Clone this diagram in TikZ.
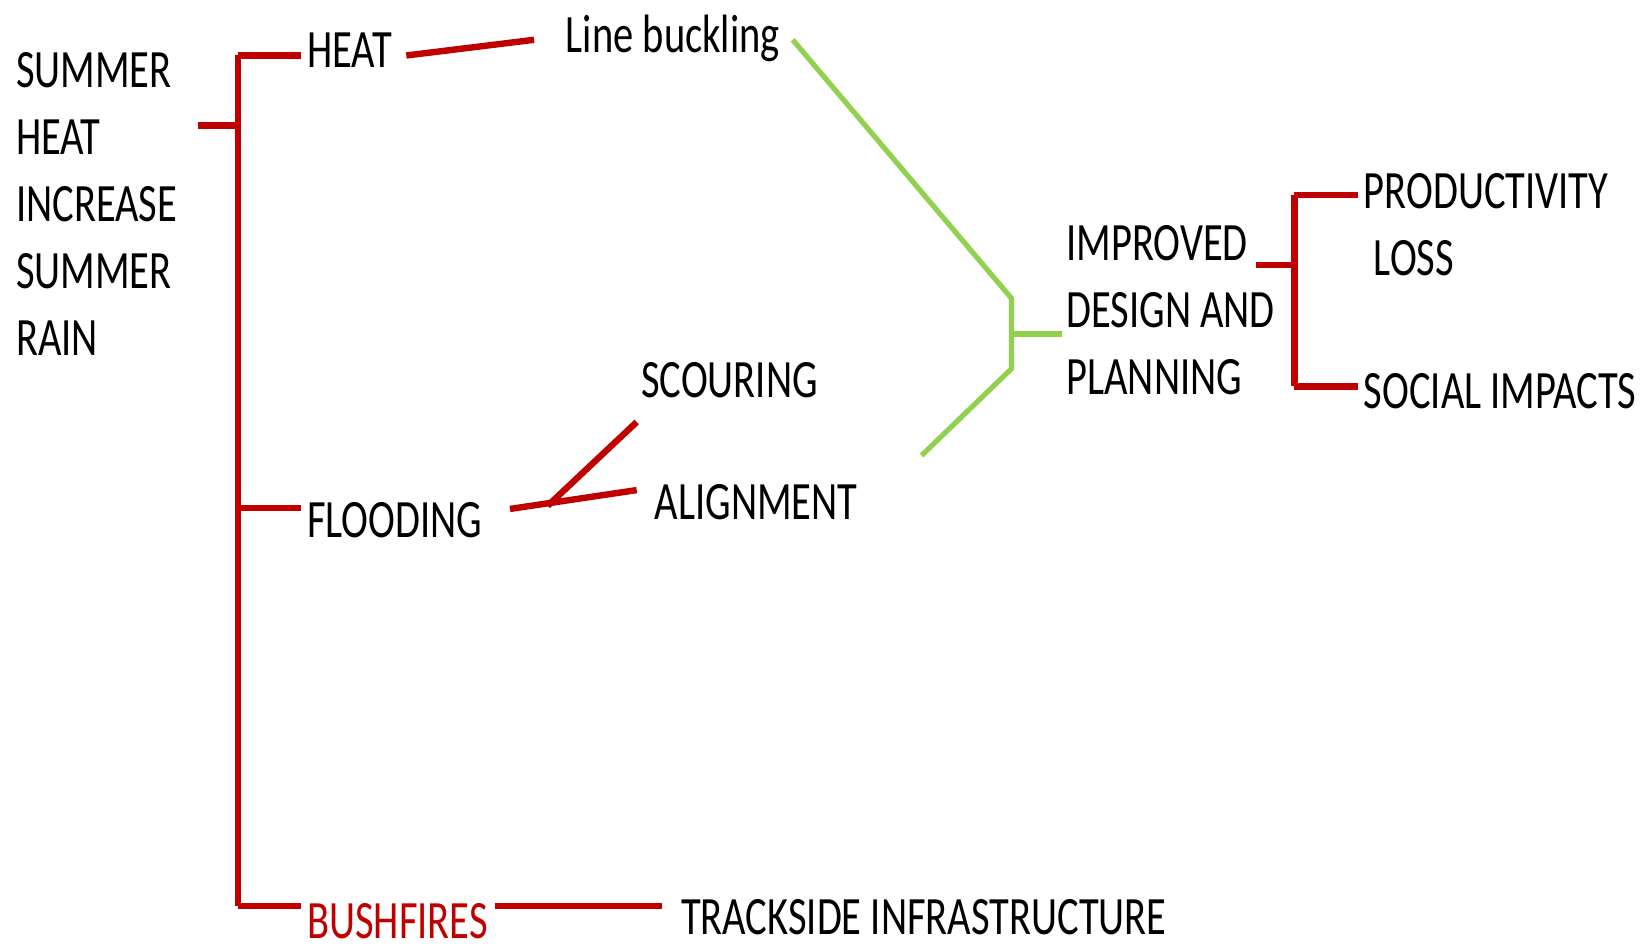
\documentclass[tikz,border=0pt]{standalone}
\usepackage{fontspec}
\setmainfont[FakeStretch=0.75]{Carlito}
\definecolor{darkred}{HTML}{C00000}
\definecolor{leafgreen}{HTML}{92D050}
\tikzset{
  txt/.style={inner sep=0pt, font=\fontsize{27}{33.5}\selectfont},
  redline/.style={draw=darkred, line width=3.2pt},
  greenline/.style={draw=leafgreen, line width=2.6pt},
}
\begin{document}
\begin{tikzpicture}[x=0.5236pt,y=-0.5236pt]
\useasboundingbox (0,0) rectangle (1568,904);
% texts
\node[txt, anchor=north west, align=left] (cause) at (15,50) {SUMMER\\HEAT\\INCREASE\\SUMMER\\RAIN};
\node[txt, anchor=west] (heat) at (293,48) {HEAT};
\node[txt, anchor=base west] (buckling) at (540,50) {Line buckling};
\node[txt, anchor=west] (flooding) at (293,497) {FLOODING};
\node[txt, anchor=west] (scouring) at (612,363) {SCOURING};
\node[txt, anchor=west] (alignment) at (625,480) {ALIGNMENT};
\node[txt, anchor=west, text=darkred] (bushfires) at (293,880) {BUSHFIRES};
\node[txt, anchor=west] (trackside) at (650,876) {TRACKSIDE INFRASTRUCTURE};
\node[txt, anchor=north west, align=left] (design) at (1018,215) {IMPROVED\\DESIGN AND\\PLANNING};
\node[txt, anchor=north west, align=left] (productivity) at (1302,165) {PRODUCTIVITY\\\hspace*{5pt}LOSS};
\node[txt, anchor=west] (social) at (1302,374) {SOCIAL IMPACTS};
% bracket points
\coordinate (rootstub) at (189,120);
\coordinate (trunktop) at (227,53);
\coordinate (trunkmid) at (227,485);
\coordinate (trunkbot) at (227,865);
\coordinate (floodfork) at (523,483);
\coordinate (greentop) at (966,285);
\coordinate (greenmid) at (966,319);
\coordinate (greenbot) at (966,352);
\coordinate (designstub) at (1199,253);
\coordinate (impacttop) at (1236,186);
\coordinate (impactbot) at (1236,369);
% red connectors
\draw[redline] (rootstub) -- (227,120);
\draw[redline] (trunktop) -- (trunkbot);
\draw[redline] (trunktop) -- (287,53);
\draw[redline] (trunkmid) -- (287,485);
\draw[redline] (trunkbot) -- (287,865);
\draw[redline] (388,53) -- (510,38);
\draw[redline] (487,486) -- (608,468);
\draw[redline] (floodfork) -- (608,403);
\draw[redline] (473,865) -- (632,865);
\draw[redline] (designstub) -- (1236,253);
\draw[redline] (impacttop) -- (impactbot);
\draw[redline] (impacttop) -- (1297,186);
\draw[redline] (impactbot) -- (1297,369);
% green connectors
\draw[greenline] (757,38) -- (greentop) -- (greenbot) -- (880,435);
\draw[greenline] (greenmid) -- (1014,319);
\end{tikzpicture}
\end{document}
